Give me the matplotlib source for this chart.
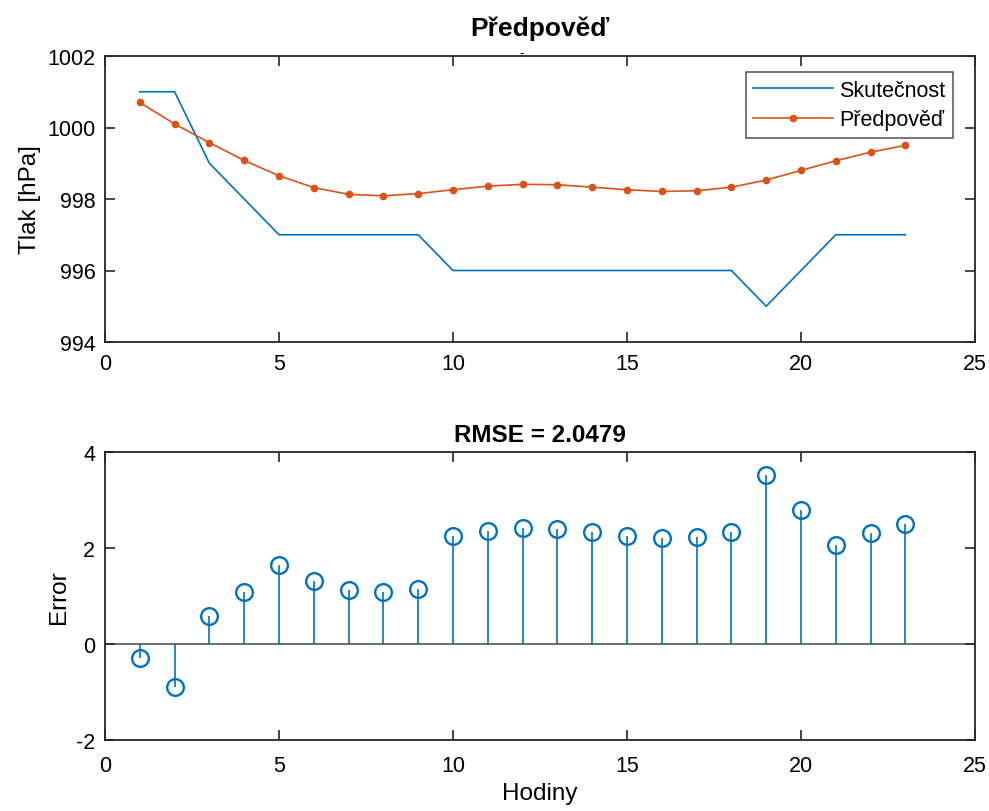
import matplotlib as _mpl
_mpl.use("Agg")
import numpy as np
import matplotlib.pyplot as plt

plt.rcParams['font.family'] = ['Liberation Sans', 'DejaVu Sans']
plt.rcParams['axes.unicode_minus'] = False

# hourly pressure readings, hPa
hours = list(range(1, 24))
actual = [1001, 1001, 999, 998, 997, 997, 997, 997, 997, 996, 996, 996,
          996, 996, 996, 996, 996, 996, 995, 996, 997, 997, 997]
forecast = [1000.70, 1000.10, 999.575, 999.08, 998.65, 998.32, 998.13,
            998.09, 998.15, 998.26, 998.36, 998.41, 998.40, 998.33, 998.26,
            998.21, 998.23, 998.33, 998.53, 998.80, 999.07, 999.31, 999.50]
rmse_text = 'RMSE = 2.0479'

blue = '#0072BD'
orange = '#D95319'
spine_col = '#262626'
tick_fs = 15.5
label_fs = 17.5

error = np.array(forecast) - np.array(actual)

fig = plt.figure(figsize=(9.89, 8.12), dpi=100)
ax1 = fig.add_axes([105 / 989, 1 - 343 / 812, 870 / 989, 286 / 812])
ax2 = fig.add_axes([105 / 989, 1 - 741 / 812, 870 / 989, 288 / 812])


def style_axes(ax, xpad):
    for s in ax.spines.values():
        s.set_color(spine_col)
        s.set_linewidth(1.3)
    ax.tick_params(direction='in', length=7, width=1.2, color=spine_col,
                   labelsize=tick_fs, top=True, right=True)
    ax.tick_params(axis='y', pad=7)
    ax.tick_params(axis='x', pad=xpad)
    ax.set_xlim(0, 25)
    ax.set_xticks(range(0, 26, 5))


ax1.plot(hours, actual, color=blue, lw=1.2, label='Skutečnost')
ax1.plot(hours, forecast, color=orange, lw=1.2, marker='o', markersize=4.5,
         label='Předpověď')
style_axes(ax1, 8)
ax1.set_ylim(994, 1002)
ax1.set_yticks(range(994, 1003, 2))
ax1.set_ylabel('Tlak [hPa]', fontsize=label_fs, labelpad=4)
ax1.set_title('Předpověď', fontsize=19, fontweight='bold', pad=15)
fig.text(522 / 989, 1 - 53 / 812, '-', fontsize=10, ha='center', va='center')
leg = ax1.legend(loc='upper right', fontsize=tick_fs, frameon=True,
                 fancybox=False, handlelength=3.7, handletextpad=0.3,
                 borderpad=0.35, labelspacing=0.4, borderaxespad=0,
                 bbox_to_anchor=((953 - 105) / 870, (343 - 73) / 286))
leg.get_frame().set_edgecolor(spine_col)
leg.get_frame().set_linewidth(1.1)

ax2.axhline(0, color='#555555', lw=1.2, zorder=1)
ml, sl, bl = ax2.stem(hours, error, basefmt=' ')
plt.setp(sl, color=blue, linewidth=1.2)
plt.setp(ml, color=blue, markerfacecolor='none', markeredgewidth=1.7,
         markersize=12)
style_axes(ax2, 11)
ax2.set_ylim(-2, 4)
ax2.set_yticks(range(-2, 5, 2))
ax2.set_ylabel('Error', fontsize=label_fs, labelpad=4)
ax2.set_xlabel('Hodiny', fontsize=label_fs, labelpad=4)
ax2.set_title(rmse_text, fontsize=17.5, fontweight='bold', pad=8)

fig.savefig('out.png', dpi=100)
